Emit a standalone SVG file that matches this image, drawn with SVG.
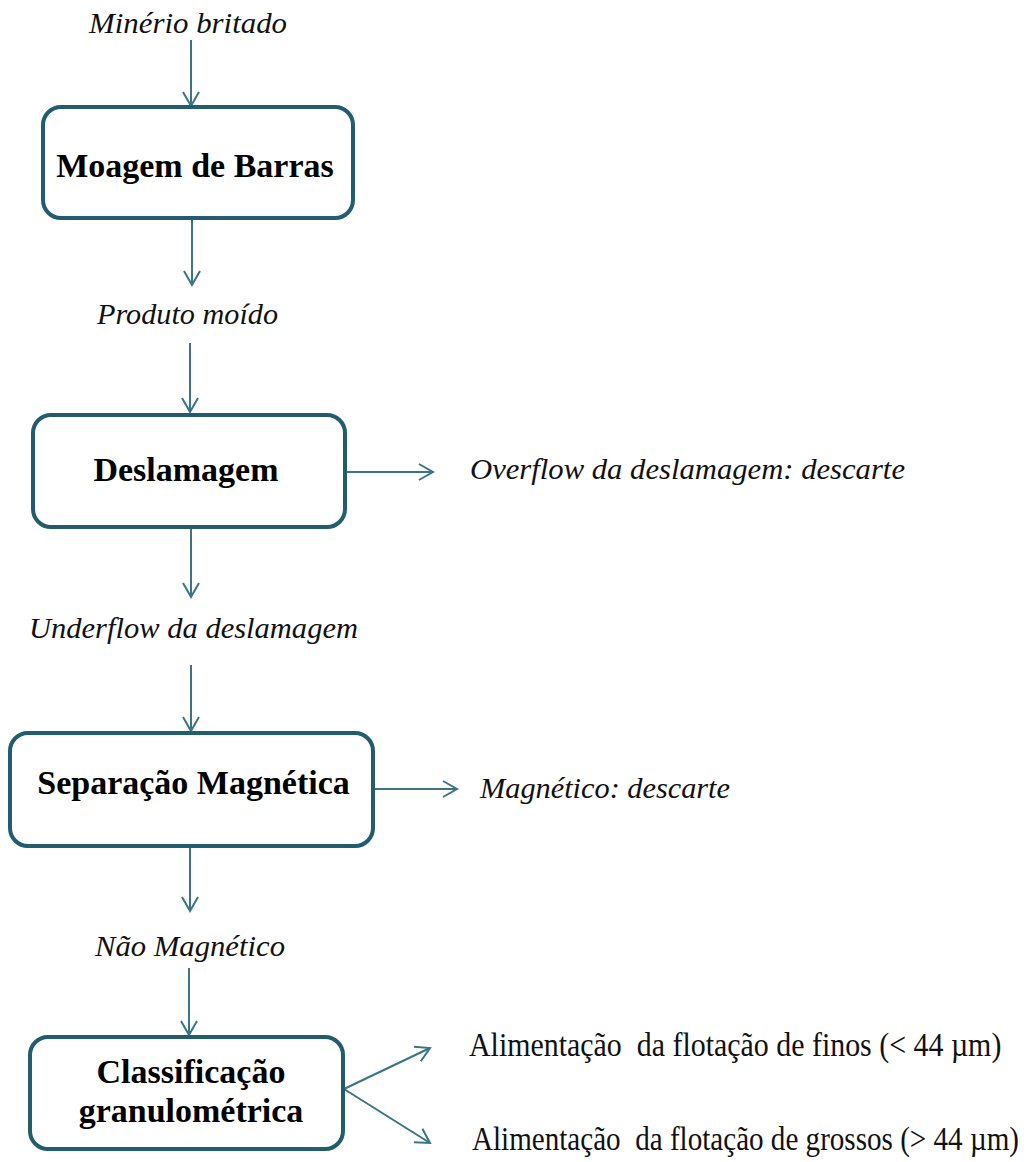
<svg xmlns="http://www.w3.org/2000/svg" width="1031" height="1162" viewBox="0 0 1031 1162">
  <style>
    .box { fill: #ffffff; stroke: #215d6e; stroke-width: 4; }
    .title { font-family: "Liberation Serif", "Times New Roman", serif; font-weight: bold; font-size: 34px; fill: #000; text-anchor: middle; }
    .flow { font-family: "Liberation Serif", "Times New Roman", serif; font-style: italic; font-size: 30px; fill: #111; }
    .out { font-family: "Liberation Serif", "Times New Roman", serif; font-size: 34px; fill: #111; white-space: pre; }
    .edge { stroke: #3a7487; stroke-width: 2; fill: none; marker-end: url(#head); }
  </style>
  <defs>
    <marker id="head" markerUnits="userSpaceOnUse" markerWidth="20" markerHeight="20" viewBox="0 0 20 20" refX="16" refY="10" orient="auto">
      <path d="M2,2 L16,10 L2,18" fill="none" stroke="#3a7487" stroke-width="2"/>
    </marker>
  </defs>

  <rect width="1031" height="1162" fill="#ffffff"/>

  <!-- connectors -->
  <g id="connectors">
    <line class="edge" x1="191" y1="40" x2="191" y2="106"/>
    <line class="edge" x1="192" y1="219" x2="192" y2="285"/>
    <line class="edge" x1="190" y1="343" x2="190" y2="412"/>
    <line class="edge" x1="191" y1="528" x2="191" y2="597"/>
    <line class="edge" x1="191" y1="665" x2="191" y2="731"/>
    <line class="edge" x1="190" y1="847" x2="190" y2="911"/>
    <line class="edge" x1="189" y1="968" x2="189" y2="1035"/>
    <line class="edge" x1="346" y1="472" x2="433" y2="472"/>
    <line class="edge" x1="374" y1="789" x2="457" y2="789"/>
    <line class="edge" x1="344" y1="1089" x2="430" y2="1048"/>
    <line class="edge" x1="344" y1="1089" x2="430" y2="1143"/>
  </g>

  <!-- stream labels -->
  <g id="labels">
    <text class="flow" x="188" y="33" text-anchor="middle" textLength="198" lengthAdjust="spacingAndGlyphs">Minério britado</text>
    <text class="flow" x="187.5" y="324" text-anchor="middle" textLength="181" lengthAdjust="spacingAndGlyphs">Produto moído</text>
    <text class="flow" x="193.5" y="638" text-anchor="middle" textLength="329" lengthAdjust="spacingAndGlyphs">Underflow da deslamagem</text>
    <text class="flow" x="190" y="956" text-anchor="middle" textLength="190" lengthAdjust="spacingAndGlyphs">Não Magnético</text>
    <text class="flow" x="470" y="479" textLength="435" lengthAdjust="spacingAndGlyphs">Overflow da deslamagem: descarte</text>
    <text class="flow" x="480" y="798" textLength="250" lengthAdjust="spacingAndGlyphs">Magnético: descarte</text>
    <!-- condensed output streams -->
    <g transform="translate(469,1056) scale(0.86,1)">
      <text class="out" x="0" y="0" textLength="619" lengthAdjust="spacingAndGlyphs" xml:space="preserve">Alimentação  da flotação de finos (&lt; 44 µm)</text>
    </g>
    <g transform="translate(472,1150) scale(0.86,1)">
      <text class="out" x="0" y="0" textLength="636" lengthAdjust="spacingAndGlyphs" xml:space="preserve">Alimentação  da flotação de grossos (&gt; 44 µm)</text>
    </g>
  </g>

  <!-- process steps -->
  <g id="moagem">
    <rect class="box" x="43" y="107" width="310" height="111" rx="18"/>
    <text class="title" x="195" y="177">Moagem de Barras</text>
  </g>
  <g id="deslamagem">
    <rect class="box" x="33" y="415" width="312" height="112" rx="18"/>
    <text class="title" x="186" y="481">Deslamagem</text>
  </g>
  <g id="separacao">
    <rect class="box" x="10" y="733" width="363" height="113" rx="18"/>
    <text class="title" x="193.5" y="794">Separação Magnética</text>
  </g>
  <g id="classificacao">
    <rect class="box" x="30" y="1037" width="313" height="112" rx="18"/>
    <text class="title" x="191" y="1083">Classificação</text>
    <text class="title" x="191" y="1122">granulométrica</text>
  </g>
</svg>
